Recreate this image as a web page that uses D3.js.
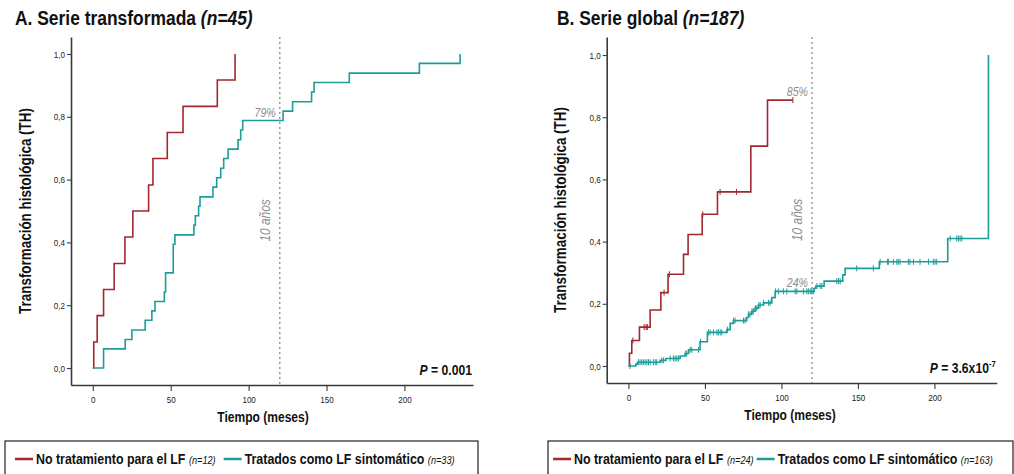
<!DOCTYPE html>
<html>
<head>
<meta charset="utf-8">
<script src="https://cdn.jsdelivr.net/npm/d3@7"></script>
<style>
  body { margin: 0; background: #fff; }
  svg { display: block; font-family: "Liberation Sans", Arial, sans-serif; }
</style>
</head>
<body>
<svg id="chart" width="1014" height="474"></svg>
<script>
// tick values shared by both panels
var monthTicks = [0, 50, 100, 150, 200];
var probTicks = [0, 0.2, 0.4, 0.6, 0.8, 1.0];

// A. Serie transformada: cumulative incidence step points (months, risk)
var aNoTxTimes = [0, 0.6, 2.8, 6.9, 13.7, 20.6, 25.7, 35.8, 38.6, 47.8, 57.9, 79.9, 91.3];
var aNoTxRisk  = [0, 0.083, 0.167, 0.25, 0.333, 0.417, 0.5, 0.583, 0.667, 0.75, 0.833, 0.917, 1.0];
var aTxTimes = [0, 6.9, 20.8, 25.1, 33.6, 37.9, 39.9, 45.9, 46.7, 51.6, 52.7, 64.9, 65.8, 67.9, 68.8,
  77.1, 79.5, 82.1, 84.0, 86.8, 93.2, 94.9, 96.2, 122.1, 128.2, 140.4, 142.0, 164.6, 209.6, 235.7];
var aTxRisk  = [0, 0.061, 0.091, 0.121, 0.152, 0.182, 0.212, 0.242, 0.303, 0.394, 0.424, 0.455, 0.485, 0.515, 0.545,
  0.576, 0.606, 0.636, 0.667, 0.697, 0.727, 0.758, 0.788, 0.818, 0.848, 0.879, 0.909, 0.939, 0.970, 1.0];

// B. Serie global
var bNoTxTimes = [0, 0.65, 2.2, 7.2, 14.2, 21.2, 25.9, 36.0, 39.0, 48.2, 58.2, 80.0, 90.9, 107.5];
var bNoTxRisk  = [0, 0.041, 0.082, 0.125, 0.18, 0.236, 0.295, 0.359, 0.423, 0.488, 0.56, 0.707, 0.855, 0.855];
var bNoTxCensored = [2.9, 10.3, 11.6, 12.4, 23.3, 26.8, 48.6, 59.9, 70.6, 107.5];

var bTxTimes = [0, 4.8, 5.9, 20.7, 24.5, 33.8, 37.0, 39.3, 46.8, 51.6, 64.3, 66.5, 68.6, 77.3, 78.4,
  80.6, 82.8, 85.0, 88.2, 93.7, 95.9, 121.4, 122.5, 127.9, 140.1, 141.6, 164.0, 208.7, 235.3];
var bTxRisk  = [0, 0.006, 0.012, 0.018, 0.024, 0.032, 0.040, 0.052, 0.078, 0.108, 0.117, 0.137, 0.146, 0.156, 0.166,
  0.176, 0.186, 0.196, 0.203, 0.22, 0.24, 0.25, 0.257, 0.273, 0.293, 0.314, 0.335, 0.41, 1.0];
var bTxCensored = [1.1, 6.5, 7.6, 8.7, 9.8, 10.9, 12.0, 13.1, 14.2, 16.3, 17.5, 18.5, 21.8, 22.9, 27.3, 29.4,
  30.5, 31.6, 32.7, 37.5, 38.1, 40.3, 41.4, 45.8, 47.2, 52.3, 53.4, 55.6, 57.8, 58.8, 60.0, 61.0, 64.8,
  68.8, 69.7, 75.2, 76.3, 78.6, 79.5, 80.8, 81.7, 83.0, 83.9, 85.2, 86.1, 88.4, 91.5, 92.6, 96.2, 98.0,
  101.3, 103.5, 109.0, 110.1, 114.4, 116.6, 117.6, 118.8, 119.8, 120.9, 123.2, 125.3, 126.4, 136.2,
  137.3, 138.4, 149.2, 160.1, 164.5, 169.3, 169.9, 173.2, 175.4, 176.4, 177.5, 183.0, 184.0, 186.3,
  190.6, 196.1, 199.3, 200.4, 201.5, 210.3, 214.6, 215.7, 216.8, 217.9];

var RED = "#a3272c";
var TEAL = "#1c9d9b";
var GREY = "#8c8c8c";
var NARROW = 0.85; // no Arial Narrow here, so squeeze the glyphs horizontally

var svg = d3.select("#chart");

function zip(times, risk) {
  return times.map(function (t, i) { return [t, risk[i]]; });
}

// value of the step function at time t
function stepValue(times, risk, t) {
  var i = d3.bisectRight(times, t) - 1;
  return risk[Math.max(i, 0)];
}

// place a text at (x,y), optionally rotated, with condensed glyphs
function place(sel, x, y, rot) {
  return sel.attr("transform", "translate(" + x + "," + y + ")" + (rot ? " rotate(" + rot + ")" : "") +
    " scale(" + NARROW + ",1)");
}

function drawPanel(p) {
  var x = d3.scaleLinear().domain(p.xDomain).range(p.xRange);
  var y = d3.scaleLinear().domain(p.yDomain).range(p.yRange);
  var g = svg.append("g");

  // title
  var title = place(g.append("text"), p.titleX, 25)
    .attr("font-size", 20.5).attr("font-weight", "bold").attr("fill", "#111");
  title.append("tspan").text(p.title + " ");
  title.append("tspan").attr("font-style", "italic").text(p.titleN);

  // axes
  var yAxis = d3.axisLeft(y).tickValues(probTicks).tickSize(4).tickSizeOuter(0)
    .tickFormat(function (d) { return d3.format(".1f")(d).replace(".", ","); });
  var xAxis = d3.axisBottom(x).tickValues(monthTicks).tickSize(6).tickSizeOuter(0)
    .tickFormat(d3.format("d"));

  var ya = g.append("g").attr("transform", "translate(" + p.xRange[0] + ",0)").call(yAxis);
  var xa = g.append("g").attr("transform", "translate(0," + p.yRange[0] + ")").call(xAxis);
  [ya, xa].forEach(function (a) {
    a.select(".domain").attr("stroke", "#3a3a3a").attr("stroke-width", 1.6);
    a.selectAll(".tick line").attr("stroke", "#3a3a3a").attr("stroke-width", 1.1);
    a.selectAll(".tick text").attr("font-size", 9.5).attr("fill", "#222")
      .attr("transform", "scale(" + NARROW + ",1)");
  });
  xa.selectAll(".tick text").attr("dy", "0.95em");

  // axis titles
  place(g.append("text"), p.yTitleX, (p.yRange[0] + p.yRange[1]) / 2, -90)
    .attr("text-anchor", "middle").attr("font-size", 15.8).attr("font-weight", "bold").attr("fill", "#111")
    .text("Transformación histológica (TH)");
  place(g.append("text"), p.xTitleX, p.yRange[0] + 37)
    .attr("text-anchor", "middle").attr("font-size", 14.2).attr("font-weight", "bold").attr("fill", "#111")
    .text("Tiempo (meses)");

  // 10 years reference
  g.append("line")
    .attr("x1", x(120)).attr("x2", x(120))
    .attr("y1", p.yRange[1]).attr("y2", p.yRange[0])
    .attr("stroke", GREY).attr("stroke-width", 1.3).attr("stroke-dasharray", "2,3");
  place(g.append("text"), x(120) - 10, y(0.47), -90)
    .attr("text-anchor", "middle").attr("font-size", 14).attr("font-style", "italic").attr("fill", GREY)
    .text("10 años");

  var line = d3.line()
    .x(function (d) { return x(d[0]); })
    .y(function (d) { return y(d[1]); })
    .curve(d3.curveStepAfter);

  p.series.forEach(function (s) {
    g.append("path")
      .datum(zip(s.times, s.risk))
      .attr("fill", "none").attr("stroke", s.color).attr("stroke-width", 1.6)
      .attr("d", line);
    g.selectAll(null)
      .data(s.censored || [])
      .enter().append("line")
      .attr("x1", function (t) { return x(t); })
      .attr("x2", function (t) { return x(t); })
      .attr("y1", function (t) { return y(stepValue(s.times, s.risk, t)) - 3; })
      .attr("y2", function (t) { return y(stepValue(s.times, s.risk, t)) + 3; })
      .attr("stroke", s.color).attr("stroke-width", 1);
    // label at 10 years
    if (s.label) {
      place(g.append("text"), x(120) - 4, y(s.labelAt) - 4)
        .attr("text-anchor", "end").attr("font-size", 12.5).attr("font-style", "italic").attr("fill", GREY)
        .text(s.label);
    }
  });

  // P value
  var pv = place(g.append("text"), p.xRange[1] - 1, y(0) + 7)
    .attr("text-anchor", "end").attr("font-size", 14.3).attr("font-weight", "bold").attr("fill", "#111");
  pv.append("tspan").attr("font-style", "italic").text("P");
  pv.append("tspan").text(" = " + p.pValue);
  if (p.pExp) pv.append("tspan").attr("font-size", 9).attr("dy", -6).text(p.pExp);

  // legend
  var lg = g.append("g").attr("transform", "translate(" + p.legendX + ",441)");
  lg.append("rect").attr("width", p.legendW).attr("height", 40)
    .attr("fill", "#fff").attr("stroke", "#222").attr("stroke-width", 1.2);
  var lx = p.legendPad;
  p.legend.forEach(function (it) {
    lg.append("line").attr("x1", lx).attr("x2", lx + 18).attr("y1", 18).attr("y2", 18)
      .attr("stroke", it.color).attr("stroke-width", 2.5);
    var t = place(lg.append("text"), lx + 21, 23)
      .attr("font-size", 14.6).attr("font-weight", "bold").attr("fill", "#111");
    t.append("tspan").text(it.name + " ");
    t.append("tspan").attr("font-size", 10.8).attr("font-weight", "normal").attr("font-style", "italic").text(it.n);
    lx += t.node().getComputedTextLength() * NARROW + 21 + p.legendGap;
  });
}

drawPanel({
  title: "A. Serie transformada", titleN: "(n=45)", titleX: 15,
  xDomain: [-14, 244], xRange: [71, 473],
  yDomain: [-0.054, 1.054], yRange: [385, 37],
  yTitleX: 31, xTitleX: 263,
  pValue: "0.001",
  legendX: 5, legendW: 473, legendPad: 10, legendGap: 8,
  series: [
    { times: aNoTxTimes, risk: aNoTxRisk, color: RED },
    { times: aTxTimes, risk: aTxRisk, color: TEAL, label: "79%", labelAt: 0.788 }
  ],
  legend: [
    { name: "No tratamiento para el LF", n: "(n=12)", color: RED },
    { name: "Tratados como LF sintomático", n: "(n=33)", color: TEAL }
  ]
});

drawPanel({
  title: "B. Serie global", titleN: "(n=187)", titleX: 557,
  xDomain: [-14.2, 240.7], xRange: [606.7, 996.7],
  yDomain: [-0.0547, 1.058], yRange: [383, 37],
  yTitleX: 566, xTitleX: 790,
  pValue: "3.6x10", pExp: "-7",
  legendX: 548, legendW: 465, legendPad: 5, legendGap: 3,
  series: [
    { times: bNoTxTimes, risk: bNoTxRisk, color: RED, censored: bNoTxCensored, label: "85%", labelAt: 0.855 },
    { times: bTxTimes, risk: bTxRisk, color: TEAL, censored: bTxCensored, label: "24%", labelAt: 0.24 }
  ],
  legend: [
    { name: "No tratamiento para el LF", n: "(n=24)", color: RED },
    { name: "Tratados como LF sintomático", n: "(n=163)", color: TEAL }
  ]
});
</script>
</body>
</html>
